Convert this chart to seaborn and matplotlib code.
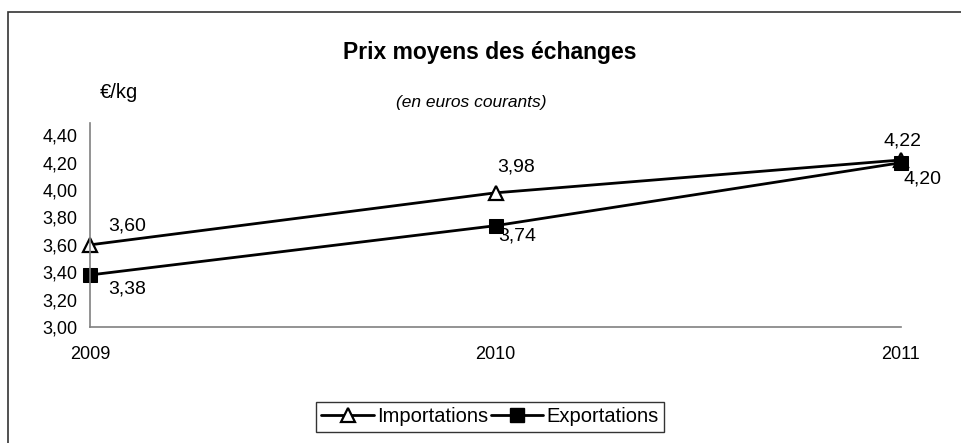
import pandas as pd
import matplotlib
matplotlib.use("Agg")
import matplotlib.pyplot as plt
import seaborn as sns
from matplotlib.lines import Line2D
from matplotlib.patches import Rectangle

annees = [2009, 2010, 2011]
importations = [3.60, 3.98, 4.22]
exportations = [3.38, 3.74, 4.20]
yticks = [3.00, 3.20, 3.40, 3.60, 3.80, 4.00, 4.20, 4.40]

df = pd.DataFrame({
    'annee': annees * 2,
    'prix': importations + exportations,
    'serie': ['Importations'] * 3 + ['Exportations'] * 3,
})

sns.set_style('white')
plt.rcParams['font.family'] = ['Liberation Sans', 'DejaVu Sans']
plt.rcParams['text.color'] = 'black'
plt.rcParams['xtick.color'] = 'black'
plt.rcParams['ytick.color'] = 'black'

fig = plt.figure(figsize=(9.62, 4.43), dpi=100)
ax = fig.add_axes([90 / 962, 1 - 327 / 443, (901 - 90) / 962, (327 - 123) / 443])

# cadre autour du graphique
fig.patches.append(Rectangle((8 / 962, -0.1), 1.2, 1 - 12 / 443 + 0.1,
                             transform=fig.transFigure, fill=False,
                             edgecolor='#333333', lw=1.2))

sns.lineplot(data=df[df.serie == 'Importations'], x='annee', y='prix', ax=ax,
             color='black', lw=2, marker='^', markersize=10, clip_on=False,
             markerfacecolor='white', markeredgecolor='black', markeredgewidth=1.6)
sns.lineplot(data=df[df.serie == 'Exportations'], x='annee', y='prix', ax=ax,
             color='black', lw=2, marker='s', markersize=9.5, clip_on=False,
             markerfacecolor='black', markeredgecolor='black')

ax.set_xlim(2009, 2011)
ax.set_ylim(3.0, 4.49)
ax.set_xticks(annees)
ax.set_xticklabels([str(a) for a in annees], fontsize=13)
ax.set_yticks(yticks)
ax.set_yticklabels([f'{v:.2f}'.replace('.', ',') for v in yticks], fontsize=13)
ax.set_xlabel('')
ax.set_ylabel('')
ax.tick_params(axis='both', direction='out', length=4, width=1)
ax.tick_params(axis='x', pad=10)
ax.tick_params(axis='y', pad=5)
for t in ax.get_xticklines() + ax.get_yticklines():
    t.set_color('#808080')
for s in ['top', 'right']:
    ax.spines[s].set_visible(False)
for s in ['left', 'bottom']:
    ax.spines[s].set_color('#808080')
    ax.spines[s].set_linewidth(1.2)

# étiquettes de valeurs (décalage en pixels)
dec_imp = [(37, 19), (21, 26), (2, 19)]
dec_exp = [(37, -14), (22, -10), (21, -16)]
for x, v, d in zip(annees, importations, dec_imp):
    ax.annotate(f'{v:.2f}'.replace('.', ','), (x, v), xytext=(d[0] * 0.72, d[1] * 0.72),
                textcoords='offset points', ha='center', va='center', fontsize=14,
                annotation_clip=False)
for x, v, d in zip(annees, exportations, dec_exp):
    ax.annotate(f'{v:.2f}'.replace('.', ','), (x, v), xytext=(d[0] * 0.72, d[1] * 0.72),
                textcoords='offset points', ha='center', va='center', fontsize=14,
                annotation_clip=False)

fig.text(490 / 962, 1 - 52 / 443, 'Prix moyens des échanges', ha='center', va='center',
         fontsize=16.5, fontweight='bold')
fig.text(100 / 962, 1 - 92 / 443, '€/kg', ha='left', va='center', fontsize=14.5)
fig.text(471 / 962, 1 - 103 / 443, '(en euros courants)', ha='center', va='center',
         fontsize=12.5, style='italic')

handles = [
    Line2D([], [], color='black', lw=2, marker='^', markersize=10,
           markerfacecolor='white', markeredgecolor='black', markeredgewidth=1.6),
    Line2D([], [], color='black', lw=2, marker='s', markersize=9.5,
           markerfacecolor='black', markeredgecolor='black'),
]
leg = fig.legend(handles, ['Importations', 'Exportations'], ncol=2,
                 loc='center', bbox_to_anchor=(490 / 962, 1 - 417 / 443),
                 fontsize=14.5, frameon=True, fancybox=False, handlelength=2.6,
                 handletextpad=0.15, columnspacing=0.15, borderpad=0.25,
                 borderaxespad=0)
leg.get_frame().set_edgecolor('black')
leg.get_frame().set_linewidth(1)

fig.savefig('out.png', dpi=100)
